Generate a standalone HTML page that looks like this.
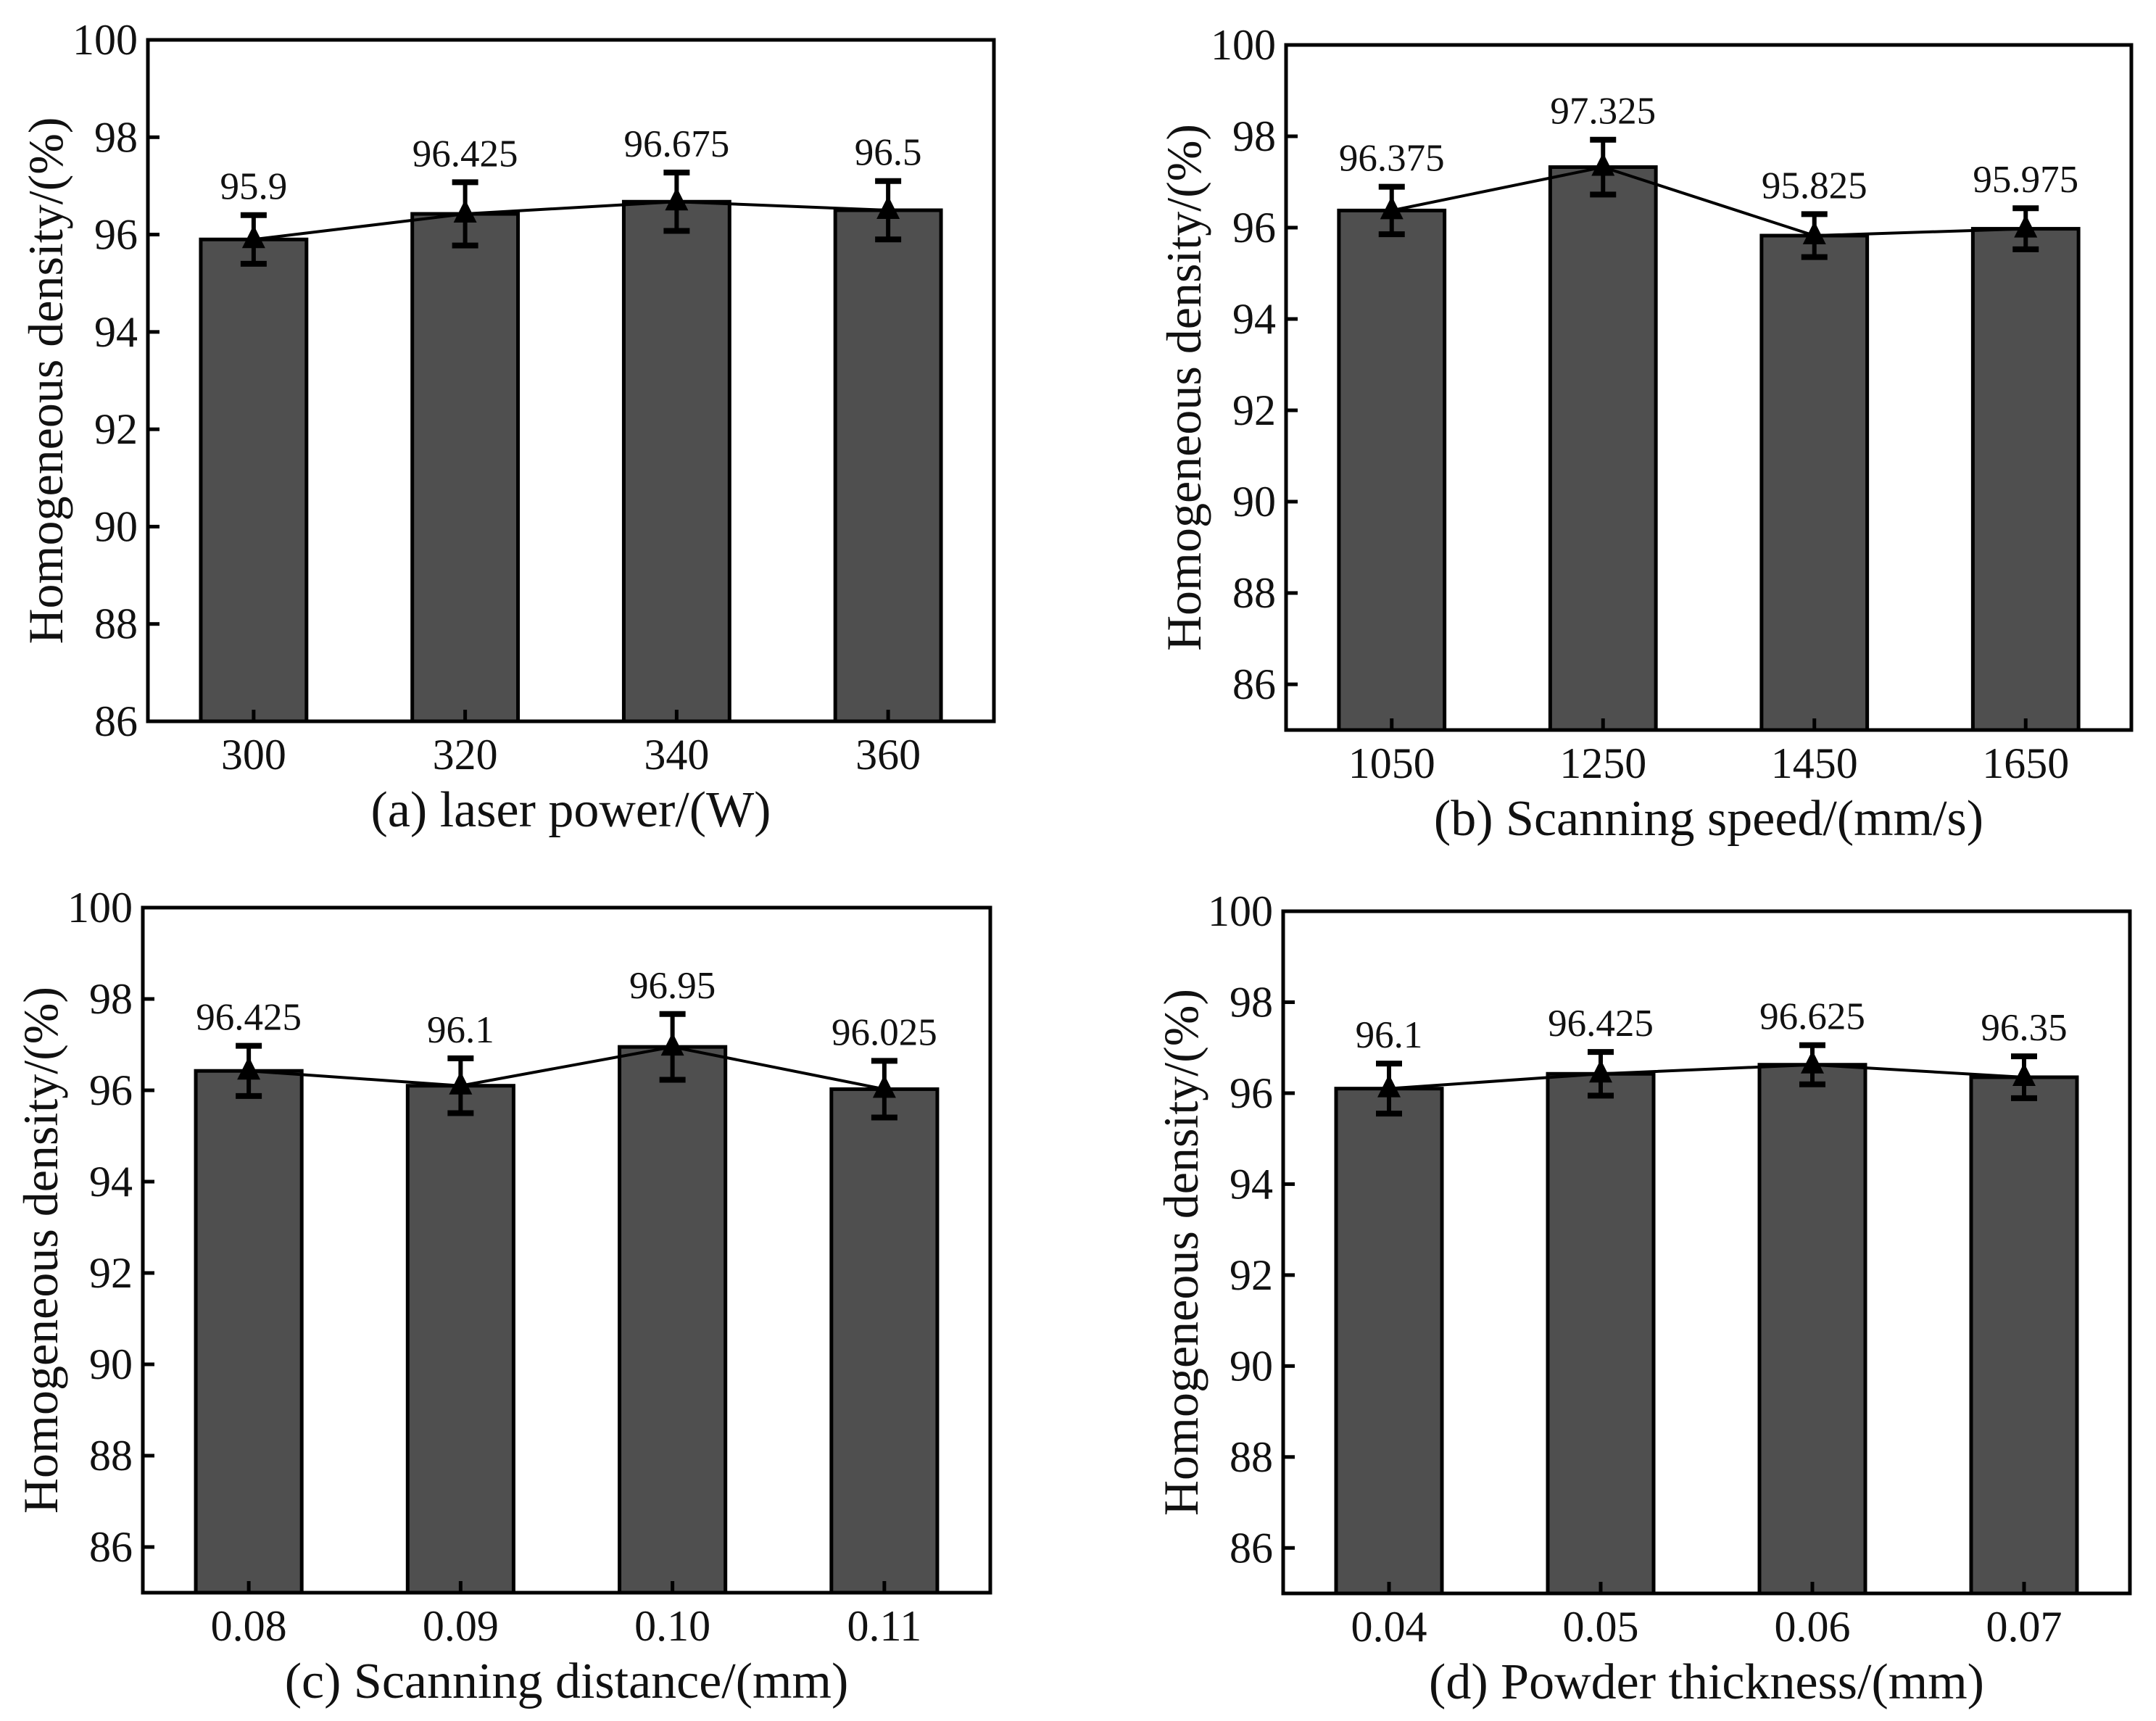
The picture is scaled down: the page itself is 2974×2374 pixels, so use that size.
<!DOCTYPE html>
<html><head><meta charset="utf-8">
<style>
html,body{margin:0;padding:0;background:#fff;}
svg{display:block;}
text{font-family:"Liberation Serif",serif;fill:#111;}
</style></head>
<body>
<svg id="fig" width="2974" height="2374" viewBox="0 0 2974 2374" xmlns="http://www.w3.org/2000/svg"></svg>
<script>
// ---- data ----
const catsA = ["300","320","340","360"];
const valsA = [95.9, 96.425, 96.675, 96.5];
const errA  = [0.5, 0.65, 0.6, 0.6];
const labA  = ["95.9","96.425","96.675","96.5"];

const catsB = ["1050","1250","1450","1650"];
const valsB = [96.375, 97.325, 95.825, 95.975];
const errB  = [0.52, 0.6, 0.47, 0.45];
const labB  = ["96.375","97.325","95.825","95.975"];

const catsC = ["0.08","0.09","0.10","0.11"];
const valsC = [96.425, 96.1, 96.95, 96.025];
const errC  = [0.55, 0.6, 0.72, 0.62];
const labC  = ["96.425","96.1","96.95","96.025"];

const catsD = ["0.04","0.05","0.06","0.07"];
const valsD = [96.1, 96.425, 96.625, 96.35];
const errD  = [0.55, 0.48, 0.43, 0.46];
const labD  = ["96.1","96.425","96.625","96.35"];

const yTicks = [86, 88, 90, 92, 94, 96, 98, 100];

const NS = "http://www.w3.org/2000/svg";
const svg = document.getElementById("fig");
function mk(tag, attrs, parent){
  const e = document.createElementNS(NS, tag);
  for (const k in attrs) e.setAttribute(k, attrs[k]);
  (parent||svg).appendChild(e);
  return e;
}

function panel(id, cfg, cats, vals, errs, labs){
  const g = mk("g", {});
  
  
  const L = cfg.left, R = cfg.right, T = cfg.top, B = cfg.bottom;
  const yMin = cfg.yMin, yMax = 100;
  const ys = v => B - (v - yMin) / (yMax - yMin) * (B - T);
  const step = (R - L) / cats.length;
  const xs = i => L + (i + 0.5) * step;
  const bw = step * 0.5;

  for (let i = 0; i < cats.length; i++){
    const r = mk("rect", {x: xs(i) - bw/2, y: ys(vals[i]), width: bw, height: B - ys(vals[i]),
      fill: "#4f4f4f", stroke: "#000", "stroke-width": 5}, g);
    
    
  }
  const pts = vals.map((v,i) => xs(i) + "," + ys(v)).join(" ");
  const pl = mk("polyline", {points: pts, fill: "none", stroke: "#000", "stroke-width": 4}, g);
  
  
  for (let i = 0; i < cats.length; i++){
    const x = xs(i), yt = ys(vals[i] + errs[i]), yb = ys(vals[i] - errs[i]);
    const eg = mk("g", {stroke: "#000", "stroke-width": 6}, g);
    
    
    mk("line", {x1: x, x2: x, y1: yt, y2: yb}, eg);
    mk("line", {x1: x-18, x2: x+18, y1: yt, y2: yt, "stroke-width": 8}, eg);
    mk("line", {x1: x-18, x2: x+18, y1: yb, y2: yb, "stroke-width": 8}, eg);
    const yc = ys(vals[i]);
    const tri = mk("polygon", {points: (x)+","+(yc-20)+" "+(x-16)+","+(yc+12)+" "+(x+16)+","+(yc+12), fill: "#000"}, g);
    
    
    const t = mk("text", {x: x, y: yt - 22, "text-anchor": "middle", "font-size": 53}, g);
    t.textContent = labs[i];
    
    
  }
  const fr = mk("rect", {x: L, y: T, width: R - L, height: B - T, fill: "none", stroke: "#000", "stroke-width": 5}, g);
  
  
  for (const v of yTicks){
    if (v < yMin) continue;
    const y = ys(v);
    if (v < 100) mk("line", {x1: L, x2: L + 16, y1: y, y2: y, stroke: "#000", "stroke-width": 5}, g);
    const t = mk("text", {x: L - 14, y: y + 20, "text-anchor": "end", "font-size": 60}, g);
    t.textContent = v;
    
    
  }
  for (let i = 0; i < cats.length; i++){
    mk("line", {x1: xs(i), x2: xs(i), y1: B, y2: B - 16, stroke: "#000", "stroke-width": 5}, g);
    const t = mk("text", {x: xs(i), y: B + 66, "text-anchor": "middle", "font-size": 60}, g);
    t.textContent = cats[i];
    
    
  }
  const xt = mk("text", {x: (L + R) / 2, y: B + 145, "text-anchor": "middle", "font-size": 70}, g);
  xt.textContent = cfg.xTitle;
  
  
  const cy = (T + B) / 2, cx = L - 140;
  const yt = mk("text", {x: cx, y: cy + 22, "text-anchor": "middle", "font-size": 68,
    transform: "rotate(-90 " + cx + " " + cy + ")"}, g);
  yt.textContent = "Homogeneous density/(%)";
  
  
}

panel("a", {left:204, right:1371, top:55, bottom:995, yMin:86, xTitle:"(a) laser power/(W)"}, catsA, valsA, errA, labA);
panel("b", {left:1774, right:2940, top:62, bottom:1007, yMin:85, xTitle:"(b) Scanning speed/(mm/s)"}, catsB, valsB, errB, labB);
panel("c", {left:197, right:1366, top:1252, bottom:2197, yMin:85, xTitle:"(c) Scanning distance/(mm)"}, catsC, valsC, errC, labC);
panel("d", {left:1770, right:2938, top:1257, bottom:2198, yMin:85, xTitle:"(d) Powder thickness/(mm)"}, catsD, valsD, errD, labD);
</script>
</body></html>
